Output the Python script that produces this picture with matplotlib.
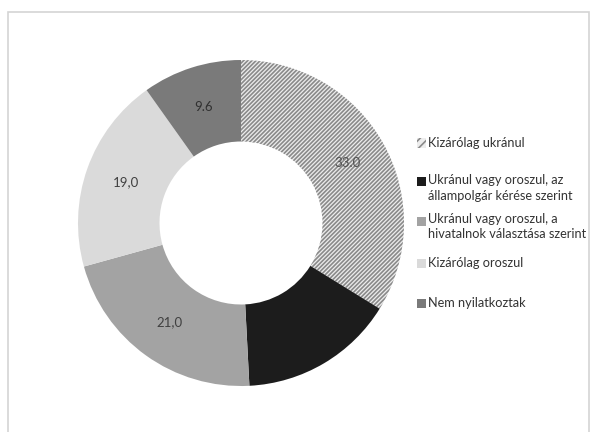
import matplotlib
matplotlib.use('Agg')
import numpy as np
import matplotlib.pyplot as plt
from matplotlib.patches import Rectangle

plt.rcParams['font.family'] = ['Lato', 'DejaVu Sans']
plt.rcParams['hatch.linewidth'] = 1.2

# shares (%), clockwise from 12 o'clock
categories = ['Kizárólag ukránul',
              'Ukránul vagy oroszul, az\nállampolgár kérése szerint',
              'Ukránul vagy oroszul, a\nhivatalnok választása szerint',
              'Kizárólag oroszul',
              'Nem nyilatkoztak']
values = [33.0, 15.0, 21.0, 19.0, 9.6]
value_labels = ['33.0', '15,0', '21,0', '19,0', '9.6']
colors = ['#ededed', '#1c1c1c', '#a3a3a3', '#dadada', '#7a7a7a']
hatches = ['////////', None, None, None, None]
label_colors = ['#505050', '#1c1c1c', '#404040', '#404040', '#303030']

W, H = 591, 432
fig = plt.figure(figsize=(W / 100, H / 100), dpi=100)

# outer frame
fig.patches.append(Rectangle((8 / W, -0.05), 581 / W, 1.05 - 12 / H,
                             transform=fig.transFigure, fill=False,
                             edgecolor='#d4d4d4', linewidth=1.2))

cx, cy, r = 241, 223, 163
ax = fig.add_axes([(cx - r) / W, (H - cy - r) / H, 2 * r / W, 2 * r / H])
wedges, texts = ax.pie(values, colors=colors, startangle=90, counterclock=False,
                       radius=1.0, wedgeprops=dict(width=0.5, linewidth=0))
for w, h in zip(wedges, hatches):
    if h:
        w.set_hatch(h)
        w.set_edgecolor('#8a8a8a')
        w.set_linewidth(0)

for w, lab, c in zip(wedges, value_labels, label_colors):
    ang = np.deg2rad((w.theta1 + w.theta2) / 2)
    ax.text(0.75 * np.cos(ang), 0.75 * np.sin(ang), lab, ha='center', va='center',
            fontsize=9.5, color=c)
ax.set_xlim(-1, 1)
ax.set_ylim(-1, 1)
ax.set_aspect('equal')
ax.axis('off')

# legend drawn by hand
rows_y = [143, 182, 221, 263, 303]
for w, txt, yy in zip(wedges, categories, rows_y):
    p = Rectangle((417 / W, (H - yy - 4.5) / H), 9 / W, 9 / H, transform=fig.transFigure,
                  facecolor=w.get_facecolor(), edgecolor='#8a8a8a' if w.get_hatch() else 'none',
                  hatch='////' if w.get_hatch() else None, linewidth=0)
    fig.patches.append(p)
    if '\n' in txt:
        fig.text(428 / W, (H - yy + 7.5) / H, txt, ha='left', va='top',
                 fontsize=9.2, color='#333333', linespacing=1.3)
    else:
        fig.text(428 / W, (H - yy) / H, txt, ha='left', va='center',
                 fontsize=9.2, color='#333333')

fig.savefig('out.png', dpi=100)
